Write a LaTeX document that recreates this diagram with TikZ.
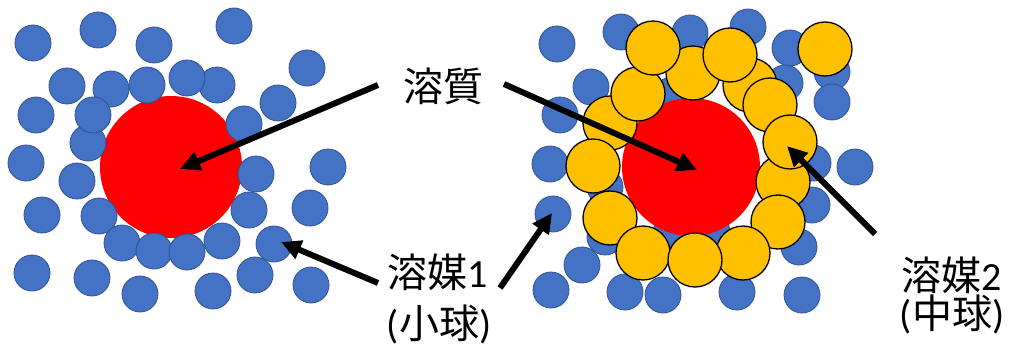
\documentclass[tikz,border=0pt]{standalone}
\usepackage{fontspec}
\newfontfamily\cjk{Noto Sans CJK JP}
\newfontfamily\carl{Carlito}
\usetikzlibrary{arrows.meta}
\definecolor{ballblue}{HTML}{4472C4}
\definecolor{balledge}{HTML}{2F528F}
\definecolor{ballyellow}{HTML}{FFC000}
\definecolor{solred}{HTML}{FF0000}
\tikzset{
  small/.style={fill=ballblue,draw=balledge,line width=0.8pt},
  medium/.style={fill=ballyellow,draw=black,line width=1.3pt},
  arr/.style={line width=6pt,-{Triangle[length=20pt,width=19pt]}},
  lbl/.style={inner sep=0pt,font=\cjk\fontsize{40}{40}\selectfont}
}
\begin{document}
\begin{tikzpicture}[x=1pt,y=-1pt]
\useasboundingbox (0,0) rectangle (1014,350);
% left cluster
\fill[solred] (171,167) circle (71);
\coordinate (redL) at (180,169);
\foreach \p in {(33,43),(98,30),(154,45),(234,26),(307,68),
  (67,86),(111,89),(147,85),(217,85),(187,78),(278,103),
  (36,115),(88,143),(93,115),(244,124),
  (26,163),(77,181),(256,174),(328,167),
  (42,215),(99,216),(122,243),(154,251),(187,252),(222,241),(249,210),(310,208),(274,244),
  (32,273),(92,278),(140,294),(213,291),(255,275),(311,285)}
  \draw[small] \p circle (18);
% right cluster blue
\foreach \p in {(557,44),(621,32),(690,33),(748,27),(790,48),(832,72),(832,102),(785,83),(672,95),
  (591,87),(560,115),(550,164),(813,163),(855,167),(553,214),(605,187),(605,237),(582,265),
  (551,290),(625,292),(663,295),(737,292),(802,295),(799,247),(812,205),(670,235),(712,232)}
  \draw[small] \p circle (18);
\fill[solred] (691,167) circle (69);
\foreach \p in {(693,73),(750,85),(610,123),(593,166),(638,94),(653,48),(730,55),(770,105),
  (783,182),(790,142),(778,222),(743,253),(610,218),(643,253),(695,260),(825,49)}
  \draw[medium] \p circle (27);
% labels
\node[lbl] (solute) at (443,86) {溶質};
\node[lbl] (solv1) at (438,272) {溶媒{\carl 1}};
\node[lbl] (solv1b) at (439,324) {{\carl (}小球{\carl )}};
\node[lbl] (solv2) at (952,275) {溶媒{\carl 2}};
\node[lbl] (solv2b) at (952,314) {{\carl (}中球{\carl )}};
% arrow ends
\coordinate (redR) at (697,170);
\coordinate (blueL) at (281,242);
\coordinate (blueR) at (552,213);
\coordinate (yel) at (787,146);
\coordinate (s1) at (378,85);
\coordinate (s2) at (504,84);
\coordinate (s3) at (378,283);
\coordinate (s4) at (500,288);
\coordinate (s5) at (875,234);
\draw[arr] (s1) -- (redL);
\draw[arr] (s2) -- (redR);
\draw[arr] (s3) -- (blueL);
\draw[arr] (s4) -- (blueR);
\draw[arr] (s5) -- (yel);
\end{tikzpicture}
\end{document}
